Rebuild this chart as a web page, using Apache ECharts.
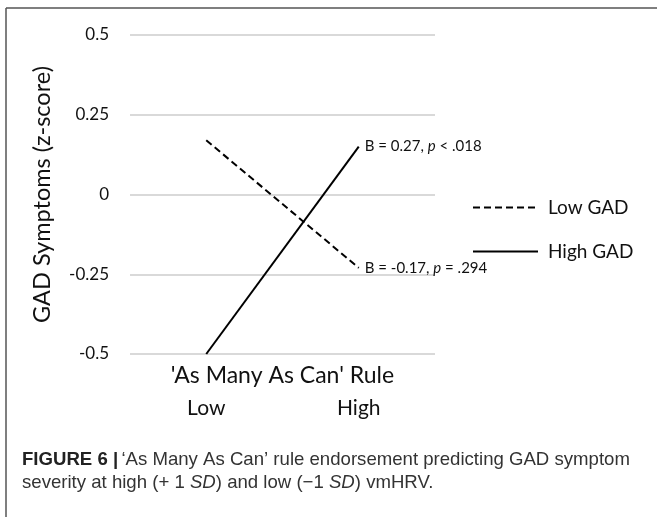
<!DOCTYPE html>
<html>
<head>
<meta charset="utf-8">
<script src="https://cdn.jsdelivr.net/npm/echarts@6/dist/echarts.min.js"></script>
<style>html,body{margin:0;padding:0;background:#fff;}#c{width:657px;height:517px;}</style>
</head>
<body>
<div id="c"></div>
<script>
const categories = ['Low', 'High'];
const lowGAD = [0.17, -0.23];
const highGAD = [-0.5, 0.15];
const yTicks = [-0.5, -0.25, 0, 0.25, 0.5];
const seriesNames = ['Low GAD', 'High GAD'];

const FONT = 'Lato, "Open Sans", sans-serif';
const CAP = '"Liberation Sans", Arial, sans-serif';
const chart = echarts.init(document.getElementById('c'), null, {renderer: 'canvas'});

function endLabel(b, op, p) {
  return {
    show: true, position: 'right', distance: 6,
    formatter: '{a|B = ' + b + ', }{i|p}{a| ' + op + ' ' + p + '}',
    rich: {
      a: {fontFamily: FONT, fontSize: 15, color: '#111'},
      i: {fontFamily: FONT, fontSize: 15, fontStyle: 'italic', color: '#111'}
    }
  };
}

chart.setOption({
  animation: false,
  backgroundColor: '#fff',
  grid: {left: 130, right: 222, top: 35, bottom: 163},
  legend: {
    data: seriesNames,
    orient: 'vertical',
    left: 467, top: 193,
    itemWidth: 65, itemHeight: 14, itemGap: 25,
    itemStyle: {opacity: 0},
    textStyle: {fontFamily: FONT, fontSize: 19, color: '#111', padding: [0, 0, 0, 5]}
  },
  xAxis: {
    type: 'category', data: categories, boundaryGap: true,
    axisLine: {show: false}, axisTick: {show: false},
    axisLabel: {margin: 44, fontFamily: FONT, fontSize: 21, color: '#111'},
    name: "'As Many As Can' Rule", nameLocation: 'middle', nameGap: 10,
    nameMoveOverlap: false,
    nameTextStyle: {fontFamily: FONT, fontSize: 23, color: '#111', verticalAlign: 'top'}
  },
  yAxis: {
    type: 'value', min: yTicks[0], max: yTicks[yTicks.length - 1], interval: 0.25,
    axisLine: {show: false}, axisTick: {show: false},
    splitLine: {lineStyle: {color: '#d9d9d9', width: 2}},
    axisLabel: {margin: 21, fontFamily: FONT, fontSize: 17, color: '#111'},
    name: 'GAD Symptoms (z-score)', nameLocation: 'middle', nameGap: 76,
    nameMoveOverlap: false,
    nameTextStyle: {fontFamily: FONT, fontSize: 23.5, color: '#111'}
  },
  series: [
    {
      name: seriesNames[0], type: 'line', symbol: 'circle', symbolSize: 0.01,
      lineStyle: {color: '#000', width: 2, type: [7, 4]},
      itemStyle: {color: '#000'},
      data: lowGAD.map((v, i) => i === 1 ? {value: v, label: endLabel('-0.17', '=', '.294')} : v)
    },
    {
      name: seriesNames[1], type: 'line', symbol: 'circle', symbolSize: 0.01,
      lineStyle: {color: '#000', width: 2},
      itemStyle: {color: '#000'},
      data: highGAD.map((v, i) => i === 1 ? {value: v, label: endLabel('0.27', '<', '.018')} : v)
    }
  ],
  graphic: [
    {type: 'line', shape: {x1: 6, y1: 8, x2: 657, y2: 8}, style: {stroke: '#555', lineWidth: 1.5}},
    {type: 'line', shape: {x1: 6, y1: 8, x2: 6, y2: 517}, style: {stroke: '#555', lineWidth: 1.5}},
    {
      type: 'text', left: 22, top: 450,
      style: {
        text: '{b|FIGURE 6 |} {n|\u2018As Many As Can\u2019 rule endorsement predicting GAD symptom}\n{n|severity at high (+ 1 }{i|SD}{n|) and low (\u22121 }{i|SD}{n|) vmHRV.}',
        rich: {
          b: {fontFamily: CAP, fontSize: 18.6, fontWeight: 'bold', fill: '#222', lineHeight: 23},
          n: {fontFamily: CAP, fontSize: 18.6, fill: '#333', lineHeight: 23},
          i: {fontFamily: CAP, fontSize: 18.6, fontStyle: 'italic', fill: '#333', lineHeight: 23}
        }
      }
    }
  ]
});
</script>
</body>
</html>
